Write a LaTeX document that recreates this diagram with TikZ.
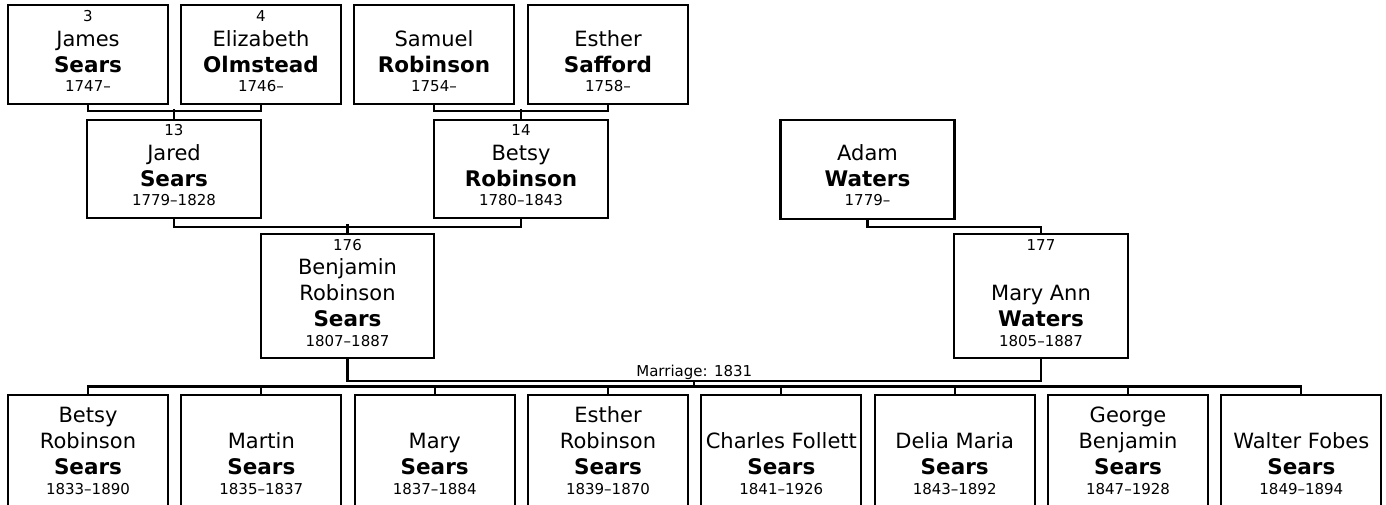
\documentclass[tikz,border=0pt]{standalone}
\usepackage{fontspec}
\setmainfont{DejaVu Sans}
\usetikzlibrary{calc}
\tikzset{
  pbox/.style={draw, line width=2.2pt, inner sep=0pt},
  topbox/.style={pbox, minimum width=160pt, minimum height=99pt},
  midbox/.style={pbox, minimum width=174pt, minimum height=98pt},
  bigbox/.style={pbox, minimum width=173.5pt, minimum height=124pt},
  kidbox/.style={pbox, minimum width=160pt, minimum height=125pt},
  given/.style={font=\fontsize{21}{25}\selectfont, inner sep=0pt},
  surname/.style={font=\fontsize{21.5}{25}\selectfont\bfseries, inner sep=0pt},
  small/.style={font=\fontsize{15}{18}\selectfont, inner sep=0pt},
  conn/.style={line width=2.2pt, line join=miter},
}
\newcommand\tln[5]{\node[#1, anchor=base] (#2) at ([yshift=-#4pt]#3.north) {#5};}
\begin{document}
\begin{tikzpicture}[x=1pt, y=-1pt]
\useasboundingbox (0,0) rectangle (1386,504);
% boxes
\node[topbox] (james) at (88,54.5) {};
\node[topbox] (eliz) at (261,54.5) {};
\node[topbox] (samuel) at (434,54.5) {};
\node[topbox] (esther) at (608,54.5) {};
\node[midbox] (jared) at (174,169) {};
\node[midbox] (betsyr) at (521,169) {};
\node[midbox, minimum height=99pt] (adam) at (867.5,169.5) {};
\node[bigbox] (benj) at (347.5,296) {};
\node[bigbox] (mary) at (1041,296) {};
\node[kidbox] (c1) at (88,457.5) {};
\node[kidbox] (c2) at (261.33,457.5) {};
\node[kidbox] (c3) at (434.67,457.5) {};
\node[kidbox] (c4) at (608,457.5) {};
\node[kidbox] (c5) at (781.33,457.5) {};
\node[kidbox] (c6) at (954.67,457.5) {};
\node[kidbox] (c7) at (1128,457.5) {};
\node[kidbox] (c8) at (1301.33,457.5) {};
% connectors
\draw[conn] (james.south) -- ++(0,6) -| (eliz.south);
\draw[conn] (jared.north) -- ++(0,-10);
\draw[conn] (samuel.south) -- ++(0,6) -| (esther.south);
\draw[conn] (betsyr.north) -- ++(0,-10);
\draw[conn] (jared.south) -- ++(0,7.5) -| (betsyr.south);
\draw[conn] (benj.north) -- ++(0,-8.5);
\draw[conn] (adam.south) -- ++(0,6.5) -| (mary.north);
\coordinate (ml) at ([yshift=-21.5pt]benj.south);
\coordinate (mr) at (mary.south |- ml);
\coordinate (mid) at ($(ml)!0.5!(mr)$);
\draw[conn] (benj.south) -- (ml) -- (mr) -- (mary.south);
\node[small, anchor=base] (mlabel) at ([yshift=4.5pt]mid) {Marriage: 1831};
\coordinate (kl) at ([yshift=7.5pt]c1.north);
\draw[conn] (mid) -- (mid |- kl);
\draw[conn] (c1.north) -- (kl) -| (c8.north);
\foreach \k in {c2,c3,c4,c5,c6,c7} \draw[conn] (\k.north) -- ++(0,-7.5);
% texts row 1
\tln{small}{james-n}{james}{17.5}{3}
\tln{given}{james-g}{james}{43}{James}
\tln{surname}{james-s}{james}{69}{Sears}
\tln{small}{james-d}{james}{88}{1747–}
\tln{small}{eliz-n}{eliz}{17.5}{4}
\tln{given}{eliz-g}{eliz}{43}{Elizabeth}
\tln{surname}{eliz-s}{eliz}{69}{Olmstead}
\tln{small}{eliz-d}{eliz}{88}{1746–}
\tln{given}{samuel-g}{samuel}{43}{Samuel}
\tln{surname}{samuel-s}{samuel}{69}{Robinson}
\tln{small}{samuel-d}{samuel}{88}{1754–}
\tln{given}{esther-g}{esther}{43}{Esther}
\tln{surname}{esther-s}{esther}{69}{Safford}
\tln{small}{esther-d}{esther}{88}{1758–}
% row 2
\tln{small}{jared-n}{jared}{17}{13}
\tln{given}{jared-g}{jared}{42}{Jared}
\tln{surname}{jared-s}{jared}{68}{Sears}
\tln{small}{jared-d}{jared}{87}{1779–1828}
\tln{small}{betsyr-n}{betsyr}{17}{14}
\tln{given}{betsyr-g}{betsyr}{42}{Betsy}
\tln{surname}{betsyr-s}{betsyr}{68}{Robinson}
\tln{small}{betsyr-d}{betsyr}{87}{1780–1843}
\tln{given}{adam-g}{adam}{42}{Adam}
\tln{surname}{adam-s}{adam}{68}{Waters}
\tln{small}{adam-d}{adam}{87}{1779–}
% row 3
\tln{small}{benj-n}{benj}{17.5}{176}
\tln{given}{benj-g1}{benj}{42}{Benjamin}
\tln{given}{benj-g2}{benj}{68}{Robinson}
\tln{surname}{benj-s}{benj}{93.5}{Sears}
\tln{small}{benj-d}{benj}{114}{1807–1887}
\tln{small}{mary-n}{mary}{17.5}{177}
\tln{given}{mary-g}{mary}{68}{Mary Ann}
\tln{surname}{mary-s}{mary}{93.5}{Waters}
\tln{small}{mary-d}{mary}{114}{1805–1887}
% children
\tln{given}{c1-g1}{c1}{28.5}{Betsy}
\tln{given}{c1-g2}{c1}{55}{Robinson}
\tln{surname}{c1-s}{c1}{80.5}{Sears}
\tln{small}{c1-d}{c1}{101}{1833–1890}
\tln{given}{c2-g}{c2}{55}{Martin}
\tln{surname}{c2-s}{c2}{80.5}{Sears}
\tln{small}{c2-d}{c2}{101}{1835–1837}
\tln{given}{c3-g}{c3}{55}{Mary}
\tln{surname}{c3-s}{c3}{80.5}{Sears}
\tln{small}{c3-d}{c3}{101}{1837–1884}
\tln{given}{c4-g1}{c4}{28.5}{Esther}
\tln{given}{c4-g2}{c4}{55}{Robinson}
\tln{surname}{c4-s}{c4}{80.5}{Sears}
\tln{small}{c4-d}{c4}{101}{1839–1870}
\tln{given}{c5-g}{c5}{55}{Charles Follett}
\tln{surname}{c5-s}{c5}{80.5}{Sears}
\tln{small}{c5-d}{c5}{101}{1841–1926}
\tln{given}{c6-g}{c6}{55}{Delia Maria}
\tln{surname}{c6-s}{c6}{80.5}{Sears}
\tln{small}{c6-d}{c6}{101}{1843–1892}
\tln{given}{c7-g1}{c7}{28.5}{George}
\tln{given}{c7-g2}{c7}{55}{Benjamin}
\tln{surname}{c7-s}{c7}{80.5}{Sears}
\tln{small}{c7-d}{c7}{101}{1847–1928}
\tln{given}{c8-g}{c8}{55}{Walter Fobes}
\tln{surname}{c8-s}{c8}{80.5}{Sears}
\tln{small}{c8-d}{c8}{101}{1849–1894}
\end{tikzpicture}
\end{document}
